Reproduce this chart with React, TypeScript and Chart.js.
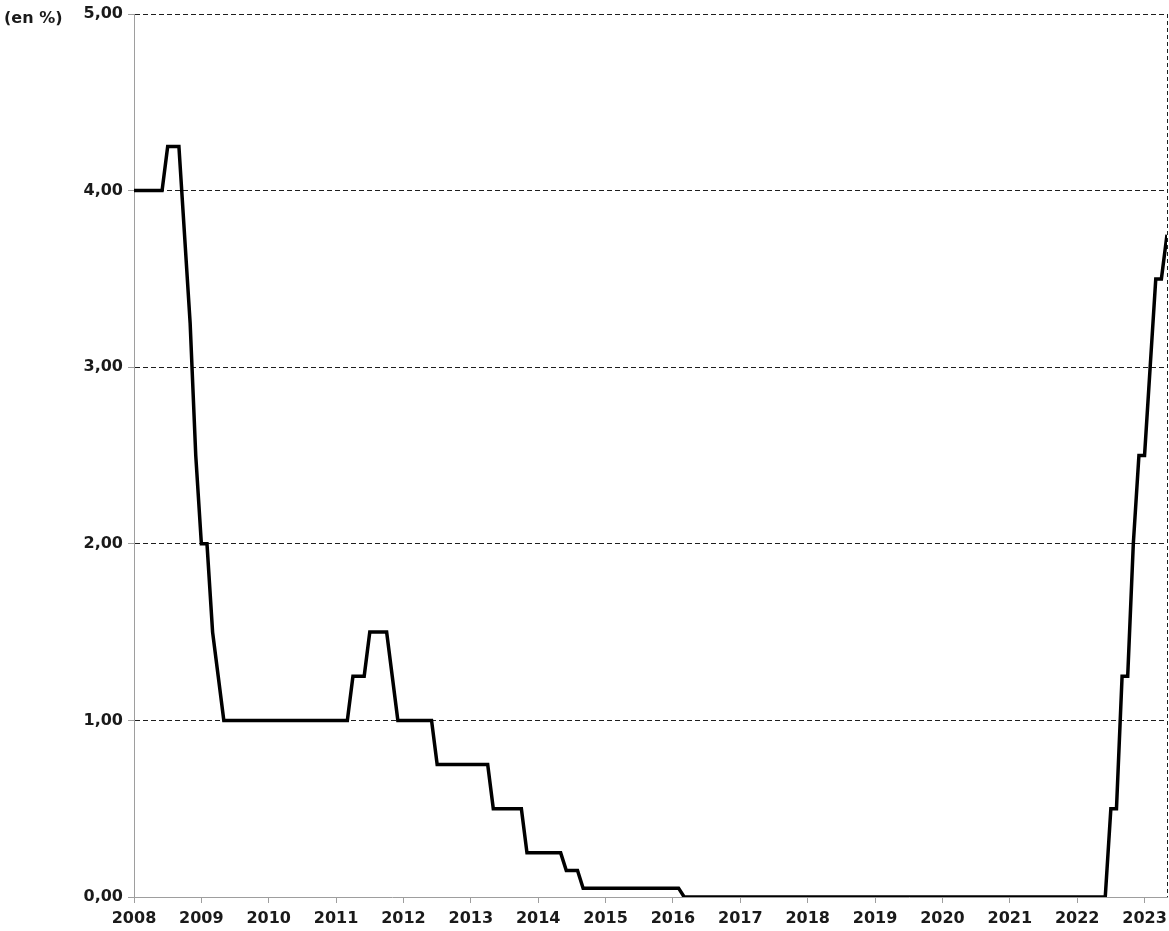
import React, { useEffect, useRef } from 'react';
import { Chart, registerables } from 'chart.js';

Chart.register(...registerables);

// End-of-month policy rate (en %), listed at each month where the level changes
// (and the month just before the change), so flat stretches are straight segments.
const MONTHS: string[] = [
  '2008-01', '2008-06', '2008-07', '2008-09', '2008-10', '2008-11', '2008-12',
  '2009-01', '2009-02', '2009-03', '2009-04', '2009-05',
  '2011-03', '2011-04', '2011-06', '2011-07', '2011-10', '2011-11', '2011-12',
  '2012-06', '2012-07',
  '2013-04', '2013-05', '2013-10', '2013-11',
  '2014-05', '2014-06', '2014-08', '2014-09',
  '2016-02', '2016-03',
  '2022-06', '2022-07', '2022-08', '2022-09', '2022-10', '2022-11', '2022-12',
  '2023-01', '2023-02', '2023-03', '2023-04', '2023-05',
];
const RATES: number[] = [
  4.0, 4.0, 4.25, 4.25, 3.75, 3.25, 2.5,
  2.0, 2.0, 1.5, 1.25, 1.0,
  1.0, 1.25, 1.25, 1.5, 1.5, 1.25, 1.0,
  1.0, 0.75,
  0.75, 0.5, 0.5, 0.25,
  0.25, 0.15, 0.15, 0.05,
  0.05, 0.0,
  0.0, 0.5, 0.5, 1.25, 1.25, 2.0, 2.5,
  2.5, 3.0, 3.5, 3.5, 3.75,
];

const YEAR_TICKS: number[] = [
  2008, 2009, 2010, 2011, 2012, 2013, 2014, 2015,
  2016, 2017, 2018, 2019, 2020, 2021, 2022, 2023,
];
const Y_TICKS: number[] = [0, 1, 2, 3, 4, 5];
const Y_UNIT = '(en %)';
const FIRST_MONTH = '2008-01';
const LAST_MONTH = '2023-05';

function monthToX(m: string): number {
  const [y, mo] = m.split('-').map(Number);
  return y + (mo - 1) / 12;
}

const X_MIN = monthToX(FIRST_MONTH);
const X_MAX = monthToX(LAST_MONTH);

const FONT = { family: '"DejaVu Sans", sans-serif', size: 16, weight: 'bold' as const };
const TEXT = '#1a1a1a';
const AXIS = '#9e9e9e';
const GRID = '#1e1e1e';
const CLEAR = 'rgba(0,0,0,0)';

export default function App() {
  const ref = useRef<HTMLCanvasElement>(null);

  useEffect(() => {
    if (!ref.current) return;
    const chart = new Chart(ref.current, {
      type: 'line',
      data: {
        datasets: [
          {
            data: MONTHS.map((m, i) => ({ x: monthToX(m), y: RATES[i] })),
            borderColor: '#000',
            borderWidth: 3.5,
            pointRadius: 0,
            fill: false,
            tension: 0,
            borderJoinStyle: 'miter',
            borderCapStyle: 'butt',
          },
        ],
      },
      options: {
        responsive: false,
        maintainAspectRatio: false,
        animation: false,
        devicePixelRatio: 1,
        layout: { padding: { top: 14, right: 2, left: 0, bottom: 0 } },
        plugins: { legend: { display: false }, tooltip: { enabled: false } },
        scales: {
          x: {
            type: 'linear',
            min: X_MIN,
            max: X_MAX,
            afterBuildTicks: (s: any) => {
              s.ticks = [...YEAR_TICKS, X_MAX].map((v) => ({ value: v }));
            },
            afterFit: (s: any) => {
              s.height = 34;
              s.paddingLeft = 0;
              s.paddingRight = 0;
            },
            ticks: {
              autoSkip: false,
              maxRotation: 0,
              padding: 6,
              color: TEXT,
              font: FONT,
              callback: (v: any) => (YEAR_TICKS.includes(v) ? String(v) : ''),
            },
            grid: {
              drawOnChartArea: true,
              drawTicks: true,
              tickLength: 6,
              lineWidth: 1,
              color: (c: any) => (c.tick && c.tick.value === X_MAX ? GRID : CLEAR),
              tickColor: (c: any) => (c.tick && c.tick.value === X_MAX ? CLEAR : AXIS),
              tickBorderDash: [],
            },
            border: { display: true, color: AXIS, width: 1, dash: [4, 3] },
          },
          y: {
            type: 'linear',
            min: 0,
            max: 5,
            afterBuildTicks: (s: any) => {
              s.ticks = Y_TICKS.map((v) => ({ value: v }));
            },
            afterFit: (s: any) => {
              s.width = 134;
              s.paddingTop = 0;
              s.paddingBottom = 0;
            },
            ticks: {
              padding: 5,
              color: TEXT,
              font: FONT,
              callback: (v: any) => Number(v).toFixed(2).replace('.', ','),
            },
            grid: {
              drawOnChartArea: true,
              drawTicks: true,
              tickLength: 6,
              lineWidth: 1,
              color: (c: any) => (c.tick && c.tick.value === 0 ? CLEAR : GRID),
              tickColor: AXIS,
              tickBorderDash: [],
            },
            border: { display: true, color: AXIS, width: 1, dash: [5, 3] },
          },
        },
      },
    });
    return () => chart.destroy();
  }, []);

  return (
    <div
      style={{
        position: 'absolute',
        left: 0,
        top: 0,
        width: 1169,
        height: 931,
        background: '#fff',
        overflow: 'hidden',
      }}
    >
      <canvas
        ref={ref}
        width={1169}
        height={931}
        style={{ display: 'block', width: 1169, height: 931 }}
      />
      <div
        style={{
          position: 'absolute',
          left: 4,
          top: 10,
          fontFamily: '"DejaVu Sans", sans-serif',
          fontWeight: 'bold',
          fontSize: 16,
          lineHeight: '16px',
          color: TEXT,
          whiteSpace: 'nowrap',
        }}
      >
        {Y_UNIT}
      </div>
    </div>
  );
}
